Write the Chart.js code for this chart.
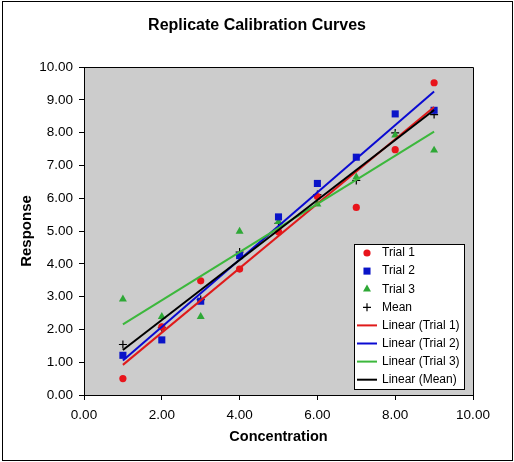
<!DOCTYPE html>
<html>
<head>
<meta charset="utf-8">
<script src="https://cdn.jsdelivr.net/npm/chart.js@4.4.0/dist/chart.umd.min.js"></script>
<style>
  html, body { margin: 0; padding: 0; background: #fff; }
  canvas { display: block; }
</style>
</head>
<body>
<canvas id="myChart" width="514" height="462"></canvas>
<script>
// concentration levels
const concentration = [1, 2, 3, 4, 5, 6, 7, 8, 9];
// responses
const trial1 = [0.50, 2.08, 3.48, 3.84, 4.98, 6.05, 5.72, 7.48, 9.52];
const trial2 = [1.21, 1.68, 2.86, 4.25, 5.43, 6.45, 7.25, 8.57, 8.68];
const trial3 = [2.92, 2.39, 2.39, 4.99, 5.28, 5.82, 6.64, 7.92, 7.46];
const meanResp = [1.54, 2.05, 2.91, 4.36, 5.23, 6.11, 6.54, 7.99, 8.55];

const seriesNames = ['Trial 1', 'Trial 2', 'Trial 3', 'Mean'];
const xTicks = [0, 2, 4, 6, 8, 10];
const yTicks = [0, 1, 2, 3, 4, 5, 6, 7, 8, 9, 10];

const FONT = "'Liberation Sans', Arial, sans-serif";

function toPoints(ys) {
    var pts = [];
    for (var i = 0; i < concentration.length; i++) {
        pts.push({x: concentration[i], y: ys[i]});
    }
    return pts;
}

// least squares line, drawn from first to last x like Excel does
function trendPoints(ys) {
    var n = concentration.length, sx = 0, sy = 0, sxy = 0, sxx = 0;
    for (var i = 0; i < n; i++) {
        sx += concentration[i]; sy += ys[i];
        sxy += concentration[i] * ys[i]; sxx += concentration[i] * concentration[i];
    }
    var b = (n * sxy - sx * sy) / (n * sxx - sx * sx);
    var a = (sy - b * sx) / n;
    var x0 = concentration[0], x1 = concentration[n - 1];
    return [{x: x0, y: a + b * x0}, {x: x1, y: a + b * x1}];
}

function markerSet(label, ys, color, style, radius) {
    return {
        label: label,
        data: toPoints(ys),
        showLine: false,
        pointStyle: style,
        pointRadius: radius,
        pointBackgroundColor: color,
        pointBorderColor: color,
        pointBorderWidth: style === 'cross' ? 1.2 : 0,
        order: 10
    };
}

function trendSet(label, ys, color, order) {
    return {
        label: 'Linear (' + label + ')',
        data: trendPoints(ys),
        showLine: true,
        borderColor: color,
        borderWidth: 2,
        pointRadius: 0,
        fill: false,
        order: order
    };
}

const datasets = [
    markerSet(seriesNames[0], trial1, '#e8141b', 'circle', 3.6),
    markerSet(seriesNames[1], trial2, '#0a14c8', 'rect', 5),
    markerSet(seriesNames[2], trial3, '#2ea836', 'triangle', 4.6),
    markerSet(seriesNames[3], meanResp, '#000000', 'cross', 4),
    trendSet(seriesNames[0], trial1, '#e01a1a', 4),
    trendSet(seriesNames[1], trial2, '#0a0ad2', 3),
    trendSet(seriesNames[2], trial3, '#3cb83c', 2),
    trendSet(seriesNames[3], meanResp, '#000000', 1)
];

// background, frame, plot border and the boxed legend
const excelLook = {
    id: 'excelLook',
    beforeDraw: function(chart) {
        var c = chart.ctx, a = chart.chartArea;
        c.save();
        c.fillStyle = '#fff';
        c.fillRect(0, 0, chart.width, chart.height);
        c.strokeStyle = '#000';
        c.lineWidth = 1;
        c.strokeRect(2.5, 1.5, 510, 459);
        c.fillStyle = '#cccccc';
        c.fillRect(a.left, a.top, a.right - a.left, a.bottom - a.top);
        c.restore();
    },
    afterDraw: function(chart) {
        var c = chart.ctx, a = chart.chartArea;
        c.save();
        c.strokeStyle = '#000';
        c.lineWidth = 1;
        c.beginPath();
        c.moveTo(a.left, a.top + 0.5);
        c.lineTo(a.right + 0.5, a.top + 0.5);
        c.lineTo(a.right + 0.5, a.bottom);
        c.stroke();

        // legend box
        var bx = 354.5, by = 244.5, bw = 110, bh = 145;
        c.fillStyle = '#fff';
        c.fillRect(bx, by, bw, bh);
        c.strokeRect(bx, by, bw, bh);
        c.font = '12px ' + FONT;
        c.textBaseline = 'middle';
        c.textAlign = 'left';
        for (var i = 0; i < chart.data.datasets.length; i++) {
            var ds = chart.data.datasets[i];
            var y = 253 + i * 18.1;
            if (ds.showLine) {
                c.strokeStyle = ds.borderColor;
                c.lineWidth = 2;
                c.beginPath();
                c.moveTo(357, y);
                c.lineTo(377, y);
                c.stroke();
            } else {
                c.fillStyle = ds.pointBackgroundColor;
                c.strokeStyle = ds.pointBorderColor;
                c.lineWidth = ds.pointBorderWidth || 1;
                Chart.helpers.drawPoint(c, {
                    pointStyle: ds.pointStyle,
                    radius: ds.pointRadius,
                    borderWidth: ds.pointBorderWidth
                }, 367, y);
            }
            c.fillStyle = '#000';
            c.fillText(ds.label, 382, y);
        }
        c.restore();
    }
};

const ctx = document.getElementById('myChart');
const myChart = new Chart(ctx, {
    type: 'scatter',
    data: { datasets: datasets },
    plugins: [excelLook],
    options: {
        responsive: false,
        animation: false,
        layout: { padding: 0 },
        plugins: {
            legend: { display: false },
            tooltip: { enabled: false },
            title: {
                display: true,
                text: 'Replicate Calibration Curves',
                color: '#000',
                font: { family: FONT, size: 16, weight: 'bold' },
                padding: { top: 16.4, bottom: 31.4 }
            }
        },
        scales: {
            x: {
                type: 'linear',
                min: 0,
                max: 10,
                afterFit: function(scale) { scale.height = 67; },
                afterBuildTicks: function(scale) {
                    scale.ticks = xTicks.map(function(v) { return {value: v}; });
                },
                ticks: {
                    color: '#000',
                    padding: 7,
                    font: { family: FONT, size: 13.5 },
                    callback: function(v) { return Number(v).toFixed(2); }
                },
                grid: { drawOnChartArea: false, drawTicks: true, tickLength: 5, color: '#000' },
                border: { color: '#000', width: 1 },
                title: {
                    display: true,
                    text: 'Concentration',
                    color: '#000',
                    font: { family: FONT, size: 14.5, weight: 'bold' },
                    padding: { top: 0, bottom: 16.3 }
                }
            },
            y: {
                type: 'linear',
                min: 0,
                max: 10,
                afterFit: function(scale) { scale.width = 84; },
                afterBuildTicks: function(scale) {
                    scale.ticks = yTicks.map(function(v) { return {value: v}; });
                },
                ticks: {
                    color: '#000',
                    padding: 6,
                    font: { family: FONT, size: 13.5 },
                    callback: function(v) { return Number(v).toFixed(2); }
                },
                grid: { drawOnChartArea: false, drawTicks: true, tickLength: 5, color: '#000' },
                border: { color: '#000', width: 1 },
                title: {
                    display: true,
                    text: 'Response',
                    color: '#000',
                    font: { family: FONT, size: 15, weight: 'bold' },
                    padding: { top: 18, bottom: 0 }
                }
            },
            // empty right axis, only reserves the right margin
            yRight: {
                type: 'linear',
                position: 'right',
                min: 0,
                max: 10,
                afterFit: function(scale) { scale.width = 41; },
                ticks: { display: false },
                grid: { display: false, drawTicks: false },
                border: { display: false }
            }
        }
    }
});
</script>
</body>
</html>
